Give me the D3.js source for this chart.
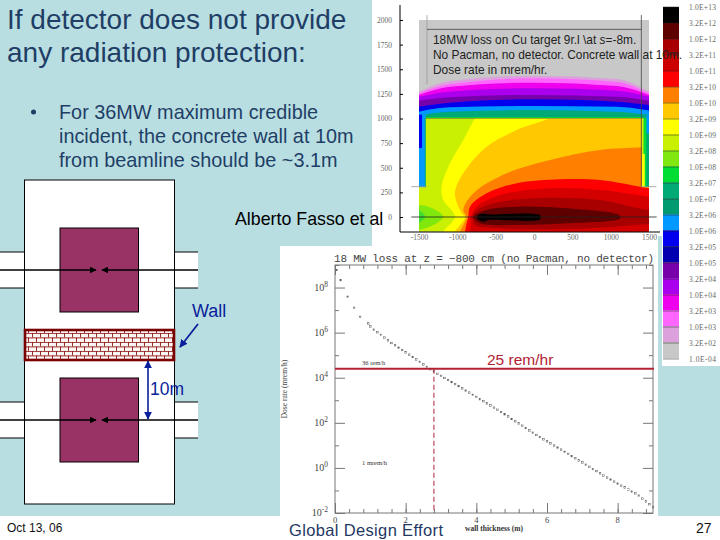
<!DOCTYPE html>
<html lang="en">
<head>
<meta charset="UTF-8">
<title>If detector does not provide any radiation protection</title>
<script src="https://d3js.org/d3.v7.min.js"></script>
<style>
  body { margin: 0; background: #fff; overflow: hidden; }
  svg { display: block; }
  text { font-family: "Liberation Sans", Arial, sans-serif; }
  .serif text, text.serif { font-family: "Liberation Serif", serif; }
  .domain { stroke: #666; }
</style>
</head>
<body>
<svg id="slide" width="720" height="540"></svg>
<script>
// colour key of the dose map, top to bottom
const keyLabels = ["1.0E+13","3.2E+12","1.0E+12","3.2E+11","1.0E+11","3.2E+10","1.0E+10","3.2E+09","1.0E+09","3.2E+08","1.0E+08","3.2E+07","1.0E+07","3.2E+06","1.0E+06","3.2E+05","1.0E+05","3.2E+04","1.0E+04","3.2E+03","1.0E+03","3.2E+02","1.0E-04"];
const keyColors = ["#000000","#5e0000","#a80000","#cc0000","#ff0000","#ff8000","#ffc800","#ffff00","#c8f000","#80e810","#00dd33","#00aa77","#009a70","#0099ff","#0000ee","#0000b0","#7700aa","#aa00ee","#ee00ee","#ff66ff","#dca0dc","#c8c8c8"];

// dose map: upper shield bands, y of the band top (cm) at each x (cm)
const bandX = [-1500, -1096, -9, 1078, 1500];
const bandTops = [
  { color: "#dca0dc", y: [1272, 1381, 1435, 1401, 1272] },
  { color: "#ff66ff", y: [1256, 1350, 1408, 1371, 1256] },
  { color: "#ee00ee", y: [1239, 1323, 1364, 1330, 1239] },
  { color: "#aa00ee", y: [1222, 1272, 1306, 1283, 1222] },
  { color: "#7700aa", y: [1181, 1215, 1239, 1222, 1181] },
  { color: "#0000ee", y: [1120, 1161, 1195, 1171, 1137] },
  { color: "#0099ff", y: [1069, 1113, 1127, 1120, 1080] },
  { color: "#00aa77", y: [1036, 1069, 1086, 1069, 1036] },
  { color: "#00dd33", y: [1015, 1015, 1015, 1015, 1015] }
];

// dose map: side wall strips [x0, x1, y0, y1] in cm
const wallStrips = [
  { color: "#0099ff", box: [-1500, -1410, 301, 1040] },
  { color: "#0000ee", box: [-1500, -1460, 700, 1040] },
  { color: "#00aa77", box: [-1425, -1410, 301, 1010] },
  { color: "#00aa77", box: [1405, 1500, 301, 1040] },
  { color: "#0099ff", box: [1465, 1500, 850, 1040] },
  { color: "#00dd33", box: [1430, 1465, 301, 1002] },
  { color: "#c8f000", box: [1405, 1430, 640, 1002] },
  { color: "#ffff00", box: [1405, 1445, 301, 640] }
];

// dose map: contours inside the hall, [x, y] in cm. Edges close far off to the right.
const room = [[-1410,1002],[1405,1002],[1405,301],[1500,301],[1500,-150],[-1500,-150],[-1500,301],[-1410,301]];
const greenBlob = [[-1509,122],[-1378,105],[-1183,4],[-1313,-81],[-1509,-132],[-1700,-130],[-1700,120]];
const greenCore = [[-1509,71],[-1422,4],[-1509,-64],[-1700,-60],[-1700,70]];
const yellowEdge = [[-618,1188],[-770,1002],[-922,782],[-1096,545],[-1205,308],[-1183,173],[-1031,4],[-1183,-149],[-1270,-300]];
const goldEdge = [[513,1120],[209,1002],[-226,883],[-618,714],[-922,443],[-1031,240],[-944,37],[-900,-3],[-965,-81],[-1031,-149],[-1096,-300]];
const orangeEdge = [[1730,721],[1404,707],[861,680],[209,579],[-357,443],[-791,240],[-922,71],[-878,-3],[-900,-47],[-965,-149],[-1031,-300]];
const redEdge = [[1948,240],[1504,291],[861,376],[339,383],[-226,342],[-618,240],[-835,105],[-857,-3],[-878,-64],[-900,-149],[-944,-300]];
const crimsonEdge = [[1948,173],[1504,207],[861,274],[209,291],[-444,223],[-748,105],[-826,-3],[-826,-98],[-835,-149],[-857,-300]];
const darkRedLoop = [[2000,80],[1504,71],[861,172],[-9,190],[-530,139],[-770,54],[-800,-3],[-770,-81],[-530,-110],[-9,-125],[861,-110],[1504,-70],[2000,-70]];
const maroonLoop = [[1121,15],[426,88],[-226,105],[-618,71],[-770,20],[-790,-3],[-705,-64],[-226,-81],[426,-64],[1121,-15]];
const blackLoop = [[78,18],[-596,27],[-660,34],[-726,20],[-739,-14],[-660,-47],[-596,-30],[78,-24]];
const mapTicksX = [-1500, -1000, -500, 0, 500, 1000, 1500];
const mapTicksY = [0, 250, 500, 750, 1000, 1250, 1500, 1750, 2000];

// dose against wall thickness: metres, log10(mrem/h)
const wallM = [0.05,0.16,0.36,0.54,0.71,0.94,1.0,1.1,1.2,1.3,1.4,1.5,1.6,1.7,1.8,1.9,2.0,2.1,2.2,2.3,2.4,2.5,2.6,2.7,2.8,2.9,3.0,3.1,3.2,3.3,3.4,3.5,3.6,3.7,3.8,3.9,4.0,4.1,4.2,4.3,4.4,4.5,4.6,4.7,4.8,4.9,5.0,5.1,5.2,5.3,5.4,5.5,5.6,5.7,5.8,5.9,6.0,6.1,6.2,6.3,6.4,6.5,6.6,6.7,6.8,6.9,7.0,7.1,7.2,7.3,7.4,7.5,7.6,7.7,7.8,7.9,8.0,8.1,8.2,8.3,8.4,8.5,8.6,8.7,8.8,8.9,9.0];
const doseLog = [8.78,8.33,7.59,7.10,6.70,6.41,6.27,6.13,6.02,5.90,5.78,5.66,5.54,5.44,5.33,5.23,5.12,5.02,4.92,4.81,4.70,4.59,4.48,4.38,4.28,4.17,4.08,3.99,3.90,3.81,3.72,3.63,3.53,3.43,3.34,3.24,3.15,3.05,2.96,2.86,2.77,2.67,2.58,2.48,2.38,2.28,2.17,2.07,1.97,1.87,1.77,1.66,1.56,1.46,1.37,1.27,1.18,1.09,0.99,0.90,0.81,0.71,0.62,0.52,0.43,0.33,0.24,0.14,0.05,-0.05,-0.14,-0.24,-0.34,-0.43,-0.52,-0.61,-0.70,-0.79,-0.87,-0.96,-1.05,-1.13,-1.23,-1.36,-1.49,-1.61,-1.74];
const limitDose = 25000;
const limitWall = 2.8;
const doseDecadesMajor = [1e-2, 1e0, 1e2, 1e4, 1e6, 1e8];
const doseDecadesMinor = [1e-1, 1e1, 1e3, 1e5, 1e7, 1e9];
const wallMajor = [0, 2, 4, 6, 8];
const wallMinor = d3.range(0, 9, 0.4);

const navy = "#1f3e66", blue = "#0a1f9a", wine = "#b22234", bg = "#b9dee2";
const svg = d3.select("#slide");
const defs = svg.append("defs");

function rect(parent, x, y, w, h, fill) {
  return parent.append("rect").attr("x", x).attr("y", y).attr("width", w).attr("height", h).attr("fill", fill);
}
function seg(parent, x1, y1, x2, y2, color, width) {
  return parent.append("line").attr("x1", x1).attr("y1", y1).attr("x2", x2).attr("y2", y2)
    .attr("stroke", color).attr("stroke-width", width);
}
function label(parent, x, y, str, size, color) {
  return parent.append("text").attr("x", x).attr("y", y).attr("font-size", size).attr("fill", color).text(str);
}

// slide background and the white pasted pictures
rect(svg, 0, 0, 720, 516, bg);
rect(svg, 372, 0, 286, 246, "#fff");
rect(svg, 658, 0, 4, 236, "#fff");
rect(svg, 662, 0, 58, 366, "#fff");
rect(svg, 280, 246, 378, 294, "#fff");
rect(svg, 0, 516, 720, 24, "#fff");

// ---- dose map ----
const mapX = d3.scaleLinear().domain([-1500, 1500]).range([419, 649]);
const mapY = d3.scaleLinear().domain([0, 2000]).range([217, 20]);

defs.append("filter").attr("id", "soft").append("feGaussianBlur").attr("stdDeviation", 0.45);
defs.append("clipPath").attr("id", "hall").append("path")
  .attr("d", d3.line().x(d => mapX(d[0])).y(d => mapY(d[1]))(room) + "Z");

const map = svg.append("g").attr("filter", "url(#soft)");
rect(map, mapX(-1500), mapY(2000), mapX(1500) - mapX(-1500), mapY(-150) - mapY(2000), "#c8c8c8");

const bandArea = d3.area().curve(d3.curveMonotoneX)
  .x((d, i) => mapX(bandX[i])).y0(mapY(1002)).y1(d => mapY(d));
bandTops.forEach(b => map.append("path").attr("d", bandArea(b.y)).attr("fill", b.color));

wallStrips.forEach(s => {
  const [x0, x1, y0, y1] = s.box;
  rect(map, mapX(x0), mapY(y1), mapX(x1) - mapX(x0), mapY(y0) - mapY(y1), s.color);
});

const hall = map.append("g").attr("clip-path", "url(#hall)");
rect(hall, mapX(-1500), mapY(1100), 230, mapY(-150) - mapY(1100), "#c8f000");

const loopLine = d3.line().curve(d3.curveCatmullRomClosed.alpha(0.5)).x(d => mapX(d[0])).y(d => mapY(d[1]));
const farRight = [[2500, -600], [2500, 1500]];
[
  [greenBlob, "#80e810"],
  [greenCore, "#40dc30"],
  [yellowEdge.concat(farRight), "#ffff00"],
  [goldEdge.concat(farRight), "#ffc800"],
  [orangeEdge.concat(farRight), "#ff8000"],
  [redEdge.concat(farRight), "#ff0000"],
  [crimsonEdge.concat(farRight), "#d40000"],
  [darkRedLoop, "#a80000"],
  [maroonLoop, "#5e0000"],
  [blackLoop, "#000000"]
].forEach(c => hall.append("path").attr("d", loopLine(c[0])).attr("fill", c[1]));

// geometry lines drawn over the map
seg(svg, mapX(-1410), mapY(1002), mapX(1400), mapY(1002), "#7a8a30", 0.8);
seg(svg, mapX(-1396), mapY(2050), mapX(-1396), mapY(1350), "#999", 0.8);
seg(svg, mapX(1400), mapY(2050), mapX(1400), mapY(308), "#444", 0.8);
seg(svg, mapX(-1396), mapY(1905), mapX(1400), mapY(1905), "#444", 0.8);
seg(svg, mapX(-1600), mapY(308), mapX(-1396), mapY(308), "#999", 0.8);
seg(svg, mapX(1400), mapY(308), mapX(1596), mapY(308), "#999", 0.8);
seg(svg, mapX(-1600), mapY(0), mapX(1600), mapY(0), "#222", 0.8);

// map axes
const mapAxes = svg.append("g").attr("class", "serif");
const mapLeft = mapAxes.append("g").attr("transform", "translate(400,0)")
  .call(d3.axisLeft(mapY).tickValues(mapTicksY).tickSize(-3).tickPadding(8).tickFormat(String));
const mapBottom = mapAxes.append("g").attr("transform", "translate(0,232)")
  .call(d3.axisBottom(mapX).tickValues(mapTicksX).tickSize(0).tickPadding(3).tickFormat(String));
seg(mapAxes, 400, 5, 400, 232, "#000", 1);
seg(mapAxes, 400, 232, 660, 232, "#000", 1);
mapLeft.select(".domain").remove();
mapBottom.select(".domain").remove();
mapAxes.selectAll("text").attr("font-size", 7.5).attr("fill", "#666");
mapAxes.selectAll("line").attr("stroke", "#000");

// colour key
const keyY = d3.scaleBand().domain(keyColors).range([7, 358]);
const key = svg.append("g");
key.selectAll("rect").data(keyColors).join("rect")
  .attr("x", 663).attr("y", d => keyY(d)).attr("width", 16).attr("height", keyY.bandwidth() + 0.3)
  .attr("fill", d => d);
const keyLabelY = d3.scalePoint().domain(keyLabels).range([7, 359]);
key.selectAll("line").data(keyLabels).join("line")
  .attr("x1", 663).attr("x2", 679).attr("y1", d => keyLabelY(d)).attr("y2", d => keyLabelY(d))
  .attr("stroke", "#222").attr("stroke-width", 0.5);
key.selectAll("text").data(keyLabels).join("text").attr("class", "serif")
  .attr("x", 689).attr("y", d => keyLabelY(d) + 2.5)
  .attr("font-size", 7.5).attr("textLength", 27).attr("fill", "#666").text(d => d);

// map caption
const cap = svg.append("g").attr("fill", "#222").attr("font-size", 11.9);
const capLine1 = cap.append("text").attr("x", 433).attr("y", 44);
capLine1.append("tspan").text("18MW loss on Cu target 9r.l \\at ");
capLine1.append("tspan").attr("font-style", "italic").text("s");
capLine1.append("tspan").text("=-8m.");
cap.append("text").attr("x", 433).attr("y", 59).text("No Pacman, no detector. Concrete wall at 10m.");
cap.append("text").attr("x", 433).attr("y", 74).text("Dose rate in mrem/hr.");
label(svg, 235, 225, "Alberto Fasso et al", 17.8, "#000");

// ---- dose vs wall thickness ----
const wallX = d3.scaleLinear().domain([0, 9]).range([335, 653]);
const doseY = d3.scaleLog().domain([1e-2, 1e9]).range([513, 265]);
const plot = svg.append("g").attr("class", "serif");

function ticks(gen, tr, values, size) {
  const g = plot.append("g").attr("transform", tr)
    .call(gen.tickValues(values).tickSize(-size).tickFormat(""));
  g.select(".domain").remove();
  g.selectAll("line").attr("stroke", "#777");
}
ticks(d3.axisBottom(wallX), "translate(0,513)", wallMinor, 4);
ticks(d3.axisBottom(wallX), "translate(0,513)", wallMajor, 10);
ticks(d3.axisTop(wallX), "translate(0,265)", wallMinor, 4);
ticks(d3.axisTop(wallX), "translate(0,265)", wallMajor, 10);
ticks(d3.axisLeft(doseY), "translate(335,0)", doseDecadesMinor, 4);
ticks(d3.axisLeft(doseY), "translate(335,0)", doseDecadesMajor, 10);
ticks(d3.axisRight(doseY), "translate(653,0)", doseDecadesMinor, 4);
ticks(d3.axisRight(doseY), "translate(653,0)", doseDecadesMajor, 10);
rect(plot, 335, 265, 318, 248, "none").attr("stroke", "#777").attr("stroke-width", 1);

plot.selectAll("rect.pt").data(wallM).join("rect").attr("class", "pt")
  .attr("x", d => wallX(d) - 0.8)
  .attr("y", (d, i) => doseY(Math.pow(10, doseLog[i])) - 0.8)
  .attr("width", 1.6).attr("height", 1.6)
  .attr("fill", "#fff").attr("stroke", "#555").attr("stroke-width", 0.5);

wallMajor.forEach(v => {
  label(plot, wallX(v), 523, v, 8.5, "#444").attr("text-anchor", "middle");
});
doseDecadesMajor.forEach(v => {
  const t = label(plot, 328, doseY(v) + 3, "10", 10, "#444").attr("text-anchor", "end");
  t.append("tspan").attr("dy", -4).attr("font-size", 7.5).text(Math.round(Math.log10(v)));
});

label(plot, 334, 262, "18 MW loss at z = −800 cm (no Pacman, no detector)", 11, "#444")
  .style("font-family", "'Liberation Mono', monospace").attr("textLength", 320);
label(plot, 0, 0, "Dose rate (mrem/h)", 7.5, "#444")
  .attr("text-anchor", "middle").attr("transform", "translate(287,389) rotate(-90)");
label(plot, 494, 531, "wall thickness (m)", 7.5, "#333").attr("text-anchor", "middle").attr("font-weight", "bold");
label(plot, 362, 365, "36 rem/h", 6.5, "#333");
label(plot, 362, 465, "1 mrem/h", 6.5, "#333");

seg(svg, 335, doseY(limitDose), 654, doseY(limitDose), wine, 2);
seg(svg, wallX(limitWall), doseY(limitDose), wallX(limitWall), 513, wine, 1).attr("stroke-dasharray", "5,3");
label(svg, 487, 365, "25 rem/hr", 15.5, wine);

// ---- slide text ----
label(svg, 7, 29, "If detector does not provide", 28, navy);
label(svg, 7, 62, "any radiation protection:", 28, navy);
svg.append("circle").attr("cx", 33.5).attr("cy", 112).attr("r", 2.5).attr("fill", navy);
label(svg, 59, 119, "For 36MW maximum credible", 19.85, navy);
label(svg, 59, 143, "incident, the concrete wall at 10m", 19.85, navy);
label(svg, 59, 167, "from beamline should be ~3.1m", 19.85, navy);

// ---- collider hall sketch ----
const sketch = svg.append("g");
function marker(id, color, size) {
  defs.append("marker").attr("id", id).attr("viewBox", "0 0 10 10").attr("refX", 9).attr("refY", 5)
    .attr("markerWidth", size).attr("markerHeight", size).attr("markerUnits", "userSpaceOnUse")
    .attr("orient", "auto-start-reverse")
    .append("path").attr("d", "M0,0L10,5L0,10Z").attr("fill", color);
}
marker("headBlack", "#000", 7);
marker("headBlue", blue, 8);

const brick = defs.append("pattern").attr("id", "bricks").attr("patternUnits", "userSpaceOnUse")
  .attr("width", 8).attr("height", 9);
rect(brick, 0, 0, 8, 9, "#fdf5f3");
seg(brick, 0, 0.4, 8, 0.4, "#8a1515", 0.9);
seg(brick, 0, 4.9, 8, 4.9, "#8a1515", 0.9);
seg(brick, 0.5, 0, 0.5, 4.5, "#8a1515", 0.9);
seg(brick, 4.5, 4.5, 4.5, 9, "#8a1515", 0.9);

[[252, 288], [402, 438]].forEach(([a, b]) => {
  rect(sketch, 0, a, 24.5, b - a, "#fff");
  rect(sketch, 174.5, a, 23.5, b - a, "#fff");
  [a, b].forEach(y => {
    seg(sketch, 0, y, 24.5, y, "#000", 1);
    seg(sketch, 174.5, y, 198, y, "#000", 1);
  });
});
rect(sketch, 24.5, 180, 150, 324, "#fff").attr("stroke", "#000").attr("stroke-width", 1);
[[228, 84], [378, 84]].forEach(([y, h]) => {
  rect(sketch, 60, y, 78.5, h, "#993366").attr("stroke", "#000").attr("stroke-width", 1);
});
[270, 420].forEach(y => {
  seg(sketch, 0, y, 96, y, "#000", 1.5).attr("marker-end", "url(#headBlack)");
  seg(sketch, 198, y, 102, y, "#000", 1.5).attr("marker-end", "url(#headBlack)");
});
rect(sketch, 25, 330, 149, 30, "url(#bricks)").attr("stroke", "#7a0000").attr("stroke-width", 2.6);

seg(sketch, 148, 361, 148, 419, blue, 1.6).attr("marker-start", "url(#headBlue)").attr("marker-end", "url(#headBlue)");
seg(sketch, 198, 324, 180, 347, blue, 1.8).attr("marker-end", "url(#headBlue)");
label(sketch, 192, 317, "Wall", 18, blue);
label(sketch, 150, 395, "10m", 17.5, blue);

// ---- footer ----
label(svg, 7, 532, "Oct 13, 06", 12, "#111");
label(svg, 289, 536, "Global Design Effort", 16.5, "#1f3864").attr("textLength", 154);
label(svg, 696, 533, "27", 14, "#111");
</script>
</body>
</html>
